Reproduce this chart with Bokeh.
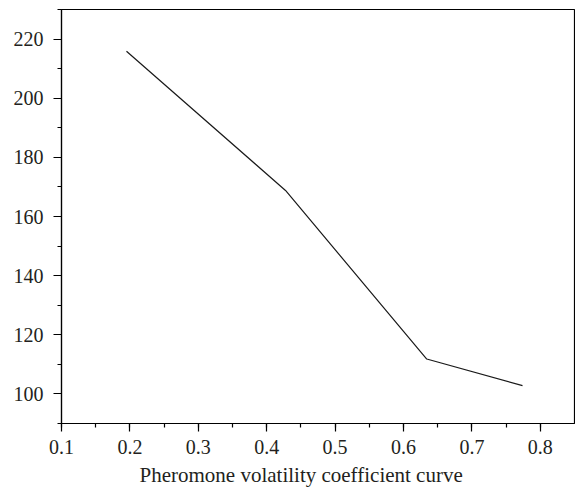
from bokeh.plotting import figure
from bokeh.models import SingleIntervalTicker, Range1d, Title
from bokeh.embed import file_html
from bokeh.resources import INLINE

# Data
coef = [0.195, 0.4275, 0.634, 0.774]
value_y = [215.9, 168.8, 111.8, 102.8]
x_label = "Pheromone volatility coefficient curve"

p = figure(width=575, height=492, output_backend="svg", toolbar_location=None,
           x_range=Range1d(0.1, 0.85), y_range=Range1d(90, 230),
           min_border_left=61, min_border_top=9, min_border_right=1, min_border_bottom=69)

p.line(coef, value_y, line_color="#1a1a1a", line_width=1.2)

p.xgrid.visible = False
p.ygrid.visible = False
p.outline_line_color = "black"
p.outline_line_width = 1.2
p.outline_line_alpha = 1

font = "Liberation Serif"
p.xaxis.ticker = SingleIntervalTicker(interval=0.1, num_minor_ticks=2)
p.yaxis.ticker = SingleIntervalTicker(interval=20, num_minor_ticks=2)
for ax in (p.xaxis[0], p.yaxis[0]):
    ax.axis_line_color = "black"
    ax.axis_line_width = 1.2
    ax.major_tick_line_color = "black"
    ax.minor_tick_line_color = "black"
    ax.major_tick_line_width = 1.2
    ax.minor_tick_line_width = 1.2
    ax.major_tick_out = 8
    ax.major_tick_in = 0
    ax.minor_tick_out = 4
    ax.minor_tick_in = 0
    ax.major_label_text_font = font
    ax.major_label_text_font_size = "20px"
    ax.major_label_text_color = "#231f20"

p.yaxis.major_label_standoff = 10
p.xaxis.major_label_standoff = 8

xt = Title(text=x_label, align="left", offset=78, standoff=9,
           text_font=font, text_font_size="21px", text_font_style="normal",
           text_color="#231f20")
p.add_layout(xt, "below")

open("out.html", "w").write(file_html(p, INLINE))
